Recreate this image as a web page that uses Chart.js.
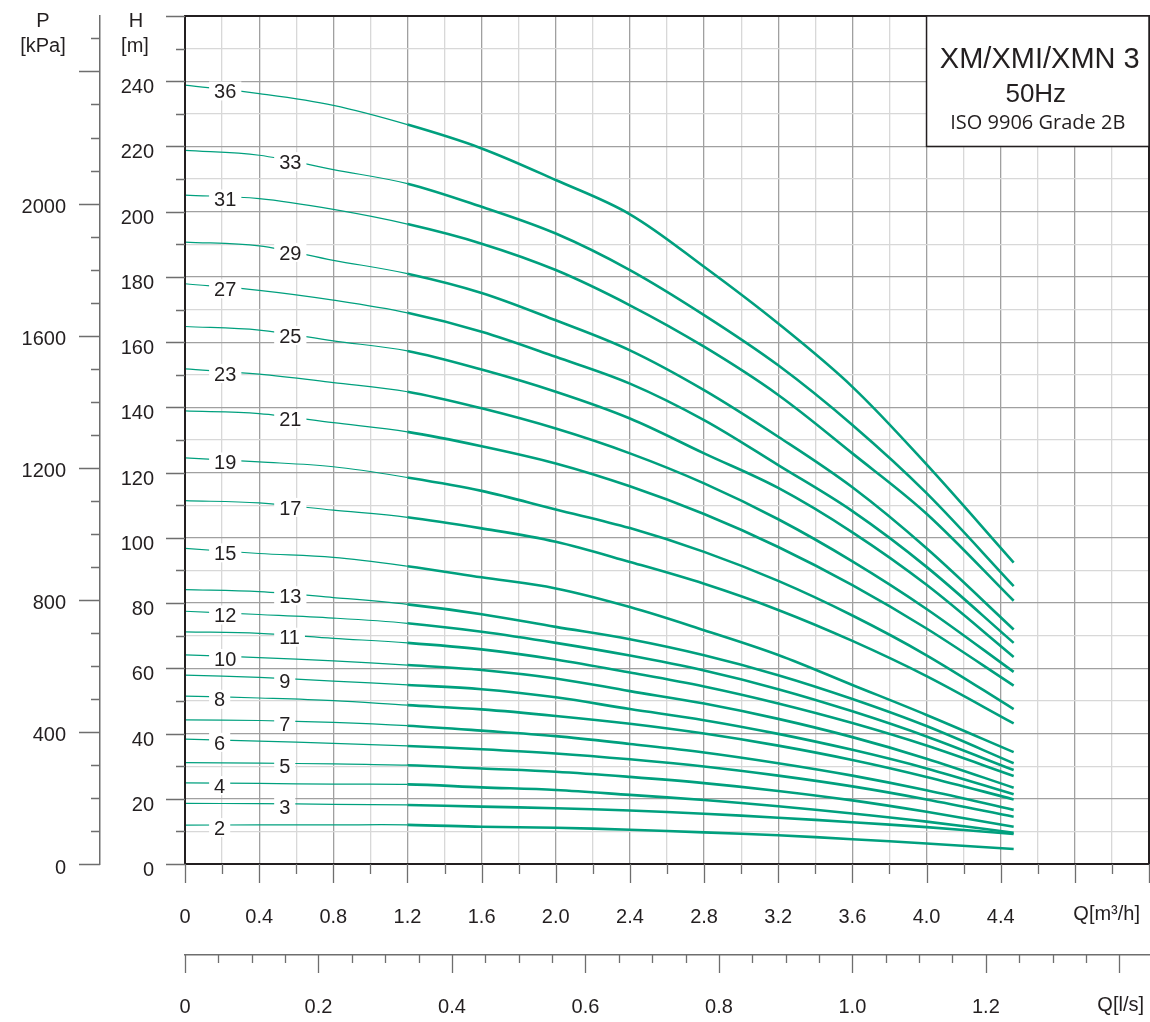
<!DOCTYPE html>
<html>
<head>
<meta charset="utf-8">
<script src="https://cdn.jsdelivr.net/npm/chart.js@4.4.1/dist/chart.umd.min.js"></script>
<style>
  html, body { margin: 0; padding: 0; background: #fff; }
  canvas { display: block; }
</style>
</head>
<body>
<canvas id="chart" width="1150" height="1022"></canvas>
<script>
// Débit Q [m3/h] des points
const flowQ = [0, 0.4, 0.8, 1.2, 1.6, 2.0, 2.4, 2.8, 3.2, 3.6, 4.0, 4.47];

// Nombre d'étages, du haut vers le bas
const stages = [36, 33, 31, 29, 27, 25, 23, 21, 19, 17, 15, 13, 12, 11, 10, 9, 8, 7, 6, 5, 4, 3, 2];

// Hauteur H [m] pour chaque courbe
const h36 = [238.8, 236.2, 232.6, 226.7, 219.4, 209.7, 199.2, 183.1, 165.7, 146.3, 122.5, 92.4];
const h33 = [218.8, 217.3, 212.9, 208.6, 201.5, 193.3, 182.1, 168.3, 152.9, 134.6, 113.7, 85.2];
const h31 = [205.1, 204.0, 200.7, 196.2, 190.2, 182.1, 171.3, 158.6, 143.8, 125.9, 107.4, 80.7];
const h29 = [190.7, 189.5, 185.1, 181.0, 175.1, 166.7, 157.5, 145.3, 131.0, 115.5, 96.8, 71.9];
const h27 = [177.9, 175.9, 172.9, 169.0, 163.2, 155.5, 147.3, 136.1, 122.3, 108.2, 91.1, 67.8];
const h25 = [164.8, 163.7, 160.4, 157.3, 151.6, 144.8, 136.6, 125.9, 115.3, 101.7, 85.6, 63.5];
const h23 = [151.8, 150.2, 147.6, 144.8, 139.7, 133.5, 125.9, 116.7, 105.7, 92.8, 78.2, 58.9];
const h21 = [138.9, 138.1, 135.3, 132.5, 128.1, 122.8, 115.8, 107.3, 97.2, 85.5, 72.2, 54.7];
const h19 = [124.5, 123.3, 121.8, 118.5, 114.4, 108.7, 103.0, 95.7, 86.8, 76.2, 64.0, 47.5];
const h17 = [111.4, 110.7, 108.5, 106.3, 102.9, 98.8, 92.6, 85.9, 77.9, 68.4, 57.6, 43.1];
const h15 = [96.8, 95.2, 94.0, 91.3, 87.9, 84.5, 78.8, 71.7, 64.1, 54.9, 45.7, 34.3];
const h13 = [84.1, 83.5, 81.7, 79.6, 76.6, 72.7, 68.9, 64.0, 57.9, 50.6, 42.3, 30.9];
const h12 = [77.5, 76.5, 75.4, 73.8, 71.2, 67.8, 63.9, 59.3, 53.6, 46.8, 39.1, 28.8];
const h11 = [71.2, 70.7, 69.2, 67.8, 65.8, 62.7, 58.7, 54.4, 49.2, 43.2, 36.3, 27.0];
const h10 = [64.1, 63.3, 62.3, 61.0, 59.5, 56.9, 53.0, 49.2, 44.5, 38.9, 32.3, 23.4];
const h9  = [57.9, 57.2, 56.1, 54.9, 53.6, 51.1, 47.5, 44.1, 39.9, 35.0, 29.3, 21.4];
const h8  = [51.5, 50.9, 50.1, 48.7, 47.4, 45.4, 43.0, 40.0, 36.3, 31.9, 26.7, 19.8];
const h7  = [44.2, 44.0, 43.4, 42.4, 40.9, 39.2, 36.8, 34.2, 30.9, 27.1, 22.6, 16.6];
const h6  = [38.3, 37.7, 37.0, 36.2, 35.2, 33.9, 32.1, 29.9, 27.1, 23.8, 19.8, 14.5];
const h5  = [31.1, 30.9, 30.7, 30.3, 29.3, 28.3, 26.7, 24.8, 22.4, 19.5, 16.0, 11.4];
const h4  = [24.9, 24.7, 24.5, 24.4, 23.5, 22.7, 21.2, 19.6, 17.7, 15.5, 13.0, 9.6];
const h3  = [18.6, 18.5, 18.3, 18.1, 17.6, 17.1, 16.4, 15.4, 14.2, 12.8, 11.3, 9.2];
const h2  = [11.9, 12.0, 12.0, 12.0, 11.4, 11.1, 10.5, 9.7, 8.8, 7.6, 6.3, 4.6];

const headCurves = [h36, h33, h31, h29, h27, h25, h23, h21, h19, h17, h15, h13, h12, h11, h10, h9, h8, h7, h6, h5, h4, h3, h2];

// Valeurs affichées sur les axes
const qTickLabels = [0, 0.4, 0.8, 1.2, 1.6, 2.0, 2.4, 2.8, 3.2, 3.6, 4.0, 4.4];
const lsTickLabels = [0, 0.2, 0.4, 0.6, 0.8, 1.0, 1.2];
const hTickLabels = [0, 20, 40, 60, 80, 100, 120, 140, 160, 180, 200, 220, 240];
const pTickLabels = [0, 400, 800, 1200, 1600, 2000];

const titleLines = ['XM/XMI/XMN 3', '50Hz', 'ISO 9906 Grade 2B'];

// Configuration des couleurs
const colors = {
    curve: '#00a07e',
    text: '#231f20',
    frame: '#231f20',
    axis: '#6e6e6e',
    gridMajor: '#a0a0a0',
    gridMinor: '#d8d8d8'
};
const FONT = '"Liberation Sans", Arial, sans-serif';

const Q_MAX = 5.2;
const H_MAX = 260;
const P_MAX = 2568;
const LS_MAX = Q_MAX / 3.6;
const OPERATING_FROM = 1.2;

function steps(from, to, step) {
    const out = [];
    for (let i = 0; from + i * step <= to + 1e-9; i++) out.push(+(from + i * step).toFixed(4));
    return out;
}
const inList = (v, list) => list.some(t => Math.abs(t - v) < 1e-6);
const fmt1 = v => (v === 0 ? '0' : v.toFixed(1));

// taille fixe des axes, sans marge ajoutée par Chart.js
function fixSize(w, h) {
    return s => {
        if (w) s.width = w;
        if (h) s.height = h;
        s.paddingLeft = s.paddingRight = s.paddingTop = s.paddingBottom = 0;
    };
}

// Étiquettes des courbes + cadre + axes dessinés à la main
const decorPlugin = {
    id: 'decor',
    afterDatasetsDraw(chart) {
        const { ctx, chartArea: a, scales } = chart;
        const x = scales.x, yH = scales.yH, yP = scales.yP, xl = scales.xl;
        ctx.save();

        // numéros d'étages sur les courbes
        ctx.font = '20px ' + FONT;
        ctx.textAlign = 'left';
        ctx.textBaseline = 'alphabetic';
        stages.forEach((n, i) => {
            const pts = chart.getDatasetMeta(i).data;
            const px = x.getPixelForValue(i % 2 === 0 ? 0.157 : 0.508);
            let py = pts[0].y;
            for (let k = 1; k < pts.length; k++) {
                if (px <= pts[k].x) {
                    const t = (px - pts[k - 1].x) / (pts[k].x - pts[k - 1].x);
                    py = pts[k - 1].y + t * (pts[k].y - pts[k - 1].y);
                    break;
                }
            }
            const txt = String(n);
            const w = ctx.measureText(txt).width;
            const cy = py + 2.5;
            ctx.fillStyle = '#fff';
            ctx.fillRect(px - 5, cy - 9.5, w + 10, 19);
            ctx.fillStyle = colors.text;
            ctx.fillText(txt, px, cy + 7.2);
        });

        // cadre
        ctx.strokeStyle = colors.frame;
        ctx.lineWidth = 2;
        ctx.strokeRect(a.left, a.top, a.right - a.left, a.bottom - a.top);

        // cartouche
        const bx = x.getPixelForValue(4.0), by = yH.getPixelForValue(220);
        ctx.fillStyle = '#fff';
        ctx.fillRect(bx, a.top, a.right - bx, by - a.top);
        ctx.lineWidth = 1.5;
        ctx.strokeRect(bx, a.top, a.right - bx, by - a.top);
        const cx = (bx + a.right) / 2;
        ctx.fillStyle = colors.text;
        ctx.textAlign = 'center';
        ctx.font = '29px ' + FONT;
        ctx.fillText(titleLines[0], cx + 2, a.top + 52);
        ctx.font = '26px ' + FONT;
        ctx.fillText(titleLines[1], cx - 2, a.top + 86);
        ctx.font = '20px "Open Sans", sans-serif';
        ctx.fillText(titleLines[2], cx, a.top + 113);

        // graduations
        ctx.strokeStyle = colors.axis;
        ctx.lineWidth = 1.3;
        ctx.beginPath();
        steps(0, Q_MAX, 0.2).forEach((v, i) => {
            const px = Math.round(x.getPixelForValue(v)) + 0.5;
            ctx.moveTo(px, a.bottom);
            ctx.lineTo(px, a.bottom + (i % 2 === 0 ? 19 : 10));
        });
        steps(0, 1.4, 0.05).forEach((v, i) => {
            const px = Math.round(xl.getPixelForValue(v)) + 0.5;
            ctx.moveTo(px, xl.top);
            ctx.lineTo(px, xl.top + (i % 4 === 0 ? 18 : 8));
        });
        steps(0, H_MAX, 10).forEach(v => {
            const py = Math.round(yH.getPixelForValue(v)) + 0.5;
            ctx.moveTo(a.left - (v % 20 === 0 ? 19 : 9), py);
            ctx.lineTo(a.left, py);
        });
        steps(0, 2500, 100).forEach(v => {
            const py = Math.round(yP.getPixelForValue(v)) + 0.5;
            ctx.moveTo(yP.right - (v % 400 === 0 ? 21 : 9), py);
            ctx.lineTo(yP.right, py);
        });
        ctx.stroke();

        // titres d'axes
        ctx.fillStyle = colors.text;
        ctx.font = '20px ' + FONT;
        ctx.textAlign = 'center';
        ctx.fillText('P', 43, 27);
        ctx.fillText('[kPa]', 43, 52);
        ctx.fillText('H', 136, 27);
        ctx.fillText('[m]', 135, 52);
        ctx.textAlign = 'right';
        ctx.fillText('Q[m³/h]', 1140, 920);
        ctx.fillText('Q[l/s]', 1144, 1011);
        ctx.restore();
    }
};

const tickFont = { family: FONT, size: 20 };

new Chart(document.getElementById('chart'), {
    type: 'line',
    data: {
        datasets: stages.map((n, i) => ({
            label: String(n),
            data: flowQ.map((q, j) => ({ x: q, y: headCurves[i][j] })),
            xAxisID: 'x',
            yAxisID: 'yH',
            borderColor: colors.curve,
            borderWidth: 2.5,
            pointRadius: 0,
            tension: 0.35,
            segment: {
                borderWidth: c => (c.p0.parsed.x < OPERATING_FROM - 1e-6 ? 1.2 : 2.6)
            }
        }))
    },
    options: {
        responsive: false,
        animation: false,
        devicePixelRatio: 1,
        layout: { padding: { top: 16, right: 1, left: 0, bottom: 0 } },
        plugins: { legend: { display: false }, tooltip: { enabled: false } },
        scales: {
            x: {
                type: 'linear',
                position: 'bottom',
                min: 0,
                max: Q_MAX,
                weight: 0,
                afterBuildTicks: s => { s.ticks = steps(0, Q_MAX, 0.2).map(v => ({ value: v })); },
                afterFit: fixSize(0, 91),
                grid: {
                    drawTicks: false,
                    lineWidth: 1.3,
                    color: c => (c.tick && Math.round(c.tick.value / 0.2) % 2 === 0 ? colors.gridMajor : colors.gridMinor)
                },
                border: { color: colors.frame, width: 2 },
                ticks: {
                    autoSkip: false, maxRotation: 0, minRotation: 0,
                    padding: 41,
                    color: colors.text,
                    font: tickFont,
                    callback: v => (inList(v, qTickLabels) ? fmt1(v) : '')
                }
            },
            xl: {
                type: 'linear',
                position: 'bottom',
                min: 0,
                max: LS_MAX,
                weight: 1,
                afterBuildTicks: s => { s.ticks = steps(0, 1.4, 0.05).map(v => ({ value: v })); },
                afterFit: fixSize(0, 67),
                grid: { drawOnChartArea: false, drawTicks: false },
                border: { color: colors.axis, width: 1.5 },
                ticks: {
                    autoSkip: false, maxRotation: 0, minRotation: 0,
                    padding: 40,
                    color: colors.text,
                    font: tickFont,
                    callback: v => (inList(v, lsTickLabels) ? fmt1(v) : '')
                }
            },
            yH: {
                type: 'linear',
                position: 'left',
                min: 0,
                max: H_MAX,
                weight: 0,
                afterBuildTicks: s => { s.ticks = steps(0, H_MAX, 10).map(v => ({ value: v })); },
                afterFit: fixSize(85, 0),
                grid: {
                    drawTicks: false,
                    lineWidth: 1.3,
                    color: c => (c.tick && c.tick.value % 20 === 0 ? colors.gridMajor : colors.gridMinor)
                },
                border: { color: colors.frame, width: 2 },
                ticks: {
                    autoSkip: false,
                    padding: 31,
                    labelOffset: 6.5,
                    color: colors.text,
                    font: tickFont,
                    callback: v => (inList(v, hTickLabels) ? String(v) : '')
                }
            },
            yP: {
                type: 'linear',
                position: 'left',
                min: 0,
                max: P_MAX,
                weight: 1,
                afterBuildTicks: s => { s.ticks = steps(0, 2500, 100).map(v => ({ value: v })); },
                afterFit: fixSize(100, 0),
                grid: { drawOnChartArea: false, drawTicks: false },
                border: { color: colors.axis, width: 1.5 },
                ticks: {
                    autoSkip: false,
                    padding: 34,
                    labelOffset: 4,
                    color: colors.text,
                    font: tickFont,
                    callback: v => (inList(v, pTickLabels) ? String(v) : '')
                }
            }
        }
    },
    plugins: [decorPlugin]
});
</script>
</body>
</html>
